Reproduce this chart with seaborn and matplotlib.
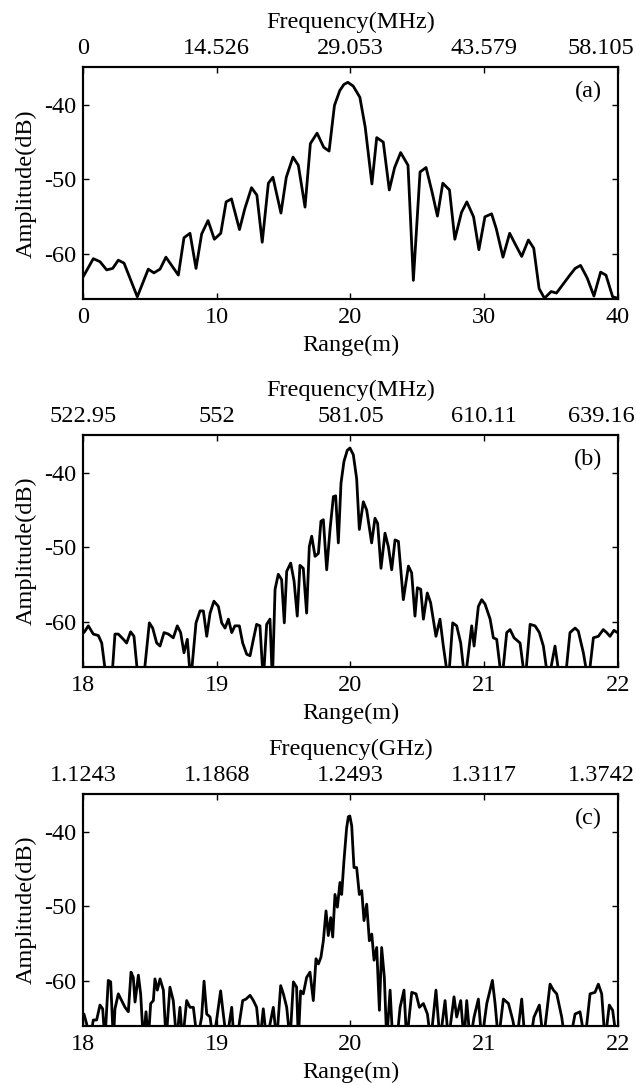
import numpy as np
import pandas as pd
import matplotlib
matplotlib.use("Agg")
import matplotlib.pyplot as plt
import matplotlib.transforms as mtransforms
import seaborn as sns

# ---- data ----
range_a = [0.02, 0.77, 1.27, 1.77, 2.22, 2.64, 3.07, 4.06, 4.88, 5.3,
           5.76, 6.2, 7.13, 7.55, 8.0, 8.45, 8.87, 9.35, 9.82, 10.3,
           10.7, 11.1, 11.7, 12.1, 12.6, 13.0, 13.4, 13.86, 14.2, 14.8,
           15.2, 15.7, 16.1, 16.6, 17.0, 17.5, 18.0, 18.4, 18.8, 19.2,
           19.5, 19.8, 20.2, 20.7, 21.1, 21.6, 21.96, 22.45, 22.9, 23.3,
           23.75, 24.3, 24.7, 25.2, 25.65, 26.1, 26.5, 26.9, 27.4, 27.8,
           28.3, 28.7, 29.2, 29.6, 30.05, 30.55, 30.9, 31.4, 31.9, 32.3,
           32.8, 33.3, 33.7, 34.1, 34.5, 35.0, 35.4, 35.9, 36.4, 36.8,
           37.2, 37.7, 38.2, 38.7, 39.1, 39.6, 40.0]
amp_a = [-63.0, -60.6, -61.0, -62.1, -61.9, -60.8, -61.2, -65.7, -62.0, -62.5,
         -62.0, -60.4, -62.8, -57.8, -57.2, -61.9, -57.3, -55.5, -58.0, -57.2,
         -53.0, -52.6, -56.7, -53.9, -51.1, -52.1, -58.4, -50.5, -49.7, -54.5,
         -49.7, -47.0, -48.1, -53.7, -45.2, -43.8, -45.7, -46.2, -40.1, -38.1,
         -37.3, -37.0, -37.5, -39.0, -43.0, -50.6, -44.4, -45.0, -51.4, -48.4,
         -46.4, -48.1, -63.5, -49.0, -48.4, -51.7, -54.9, -50.5, -51.4, -58.0,
         -54.4, -53.0, -55.0, -59.4, -55.0, -54.6, -56.6, -60.4, -57.2, -58.6,
         -60.3, -58.1, -59.2, -64.6, -65.9, -65.0, -65.2, -64.0, -62.8, -61.9,
         -61.5, -63.2, -65.6, -62.4, -62.8, -65.7, -65.9]

range_b = [18.007, 18.040, 18.077, 18.115, 18.140, 18.177, 18.214, 18.239, 18.264, 18.302,
           18.326, 18.356, 18.381, 18.414, 18.451, 18.496, 18.521, 18.551, 18.576, 18.606,
           18.638, 18.675, 18.705, 18.730, 18.755, 18.780, 18.805, 18.845, 18.875, 18.900,
           18.925, 18.950, 18.979, 19.012, 19.037, 19.062, 19.087, 19.112, 19.136, 19.169,
           19.194, 19.224, 19.249, 19.274, 19.298, 19.323, 19.348, 19.373, 19.398, 19.416,
           19.436, 19.460, 19.485, 19.505, 19.523, 19.553, 19.578, 19.602, 19.622, 19.647,
           19.672, 19.692, 19.710, 19.735, 19.760, 19.779, 19.797, 19.822, 19.847, 19.872,
           19.889, 19.909, 19.929, 19.951, 19.976, 19.996,
           20.021, 20.046, 20.066, 20.096, 20.121, 20.158, 20.183, 20.203, 20.228, 20.258,
           20.283, 20.308, 20.333, 20.358, 20.395, 20.433, 20.457, 20.482, 20.500, 20.525,
           20.545, 20.574, 20.599, 20.639, 20.669, 20.694, 20.732, 20.764, 20.794, 20.824,
           20.856, 20.906, 20.924, 20.956, 20.981, 21.006, 21.044, 21.068, 21.093, 21.131,
           21.168, 21.193, 21.223, 21.268, 21.305, 21.343, 21.380, 21.412, 21.442, 21.479,
           21.529, 21.567, 21.604, 21.641, 21.679, 21.703, 21.741, 21.778, 21.816, 21.853,
           21.890, 21.915, 21.940, 21.970, 21.995]
amp_b = [-61.4, -60.5, -61.6, -61.8, -62.8, -68, -68, -61.6, -61.6, -62.3,
         -62.8, -61.3, -61.9, -68, -68, -60.1, -60.8, -62.8, -63.2, -61.4,
         -61.6, -62.1, -60.5, -61.4, -64.1, -62.3, -68, -60.1, -58.5, -58.5,
         -61.9, -58.8, -57.2, -57.9, -60.1, -60.8, -59.6, -61.4, -60.5, -60.5,
         -62.8, -64.3, -64.5, -62.3, -60.3, -60.5, -68, -60.3, -59.6, -68,
         -55.6, -53.6, -54.3, -60.1, -53.2, -52.1, -54.5, -59.2, -52.4, -52.8,
         -58.8, -49.9, -48.5, -51.2, -50.8, -46.5, -46.3, -53.0, -47.6, -43.2,
         -43.1, -49.4, -41.4, -38.5, -37.0, -36.7,
         -37.6, -40.8, -47.6, -43.9, -45.0, -49.4, -46.1, -46.8, -52.8, -48.1,
         -49.9, -53.0, -49.0, -49.2, -57.0, -52.5, -53.4, -59.2, -55.4, -55.6,
         -59.6, -56.1, -57.4, -61.9, -59.6, -63.2, -68, -60.1, -60.5, -62.8,
         -68, -60.5, -63.2, -57.9, -57.0, -57.6, -59.6, -62.1, -62.3, -68,
         -61.4, -61.0, -62.1, -62.8, -68, -60.3, -60.5, -61.4, -63.2, -68,
         -63.2, -68, -68, -61.4, -60.8, -61.2, -64.1, -68, -62.1, -61.9,
         -61.0, -61.4, -61.9, -61.1, -61.4]

range_c = [18.007, 18.027, 18.052, 18.077, 18.102, 18.127, 18.147, 18.164, 18.189, 18.207,
           18.227, 18.239, 18.264, 18.289, 18.314, 18.339, 18.359, 18.376, 18.389, 18.414,
           18.431, 18.451, 18.471, 18.488, 18.506, 18.526, 18.538, 18.556, 18.576, 18.601,
           18.621, 18.650, 18.675, 18.700, 18.725, 18.745, 18.775, 18.800, 18.825, 18.855,
           18.887, 18.905, 18.925, 18.950, 18.974, 18.999, 19.029, 19.049, 19.074, 19.112,
           19.129, 19.149, 19.194, 19.219, 19.249, 19.274, 19.298, 19.323, 19.348, 19.373,
           19.423, 19.448, 19.478, 19.498, 19.523, 19.548, 19.573, 19.597, 19.610, 19.627,
           19.647, 19.672, 19.697, 19.722, 19.742, 19.760, 19.779, 19.797, 19.817, 19.834,
           19.852, 19.867, 19.884, 19.902, 19.921, 19.934, 19.951, 19.971, 19.984, 19.995,
           20.009, 20.026, 20.046, 20.066, 20.084, 20.101, 20.121, 20.141, 20.159, 20.176,
           20.196, 20.216, 20.233, 20.253, 20.271, 20.296, 20.316, 20.346, 20.371, 20.400,
           20.420, 20.458, 20.490, 20.515, 20.545, 20.575, 20.600, 20.639, 20.669, 20.707,
           20.732, 20.774, 20.794, 20.824, 20.849, 20.869, 20.894, 20.924, 20.956, 20.981,
           21.019, 21.061, 21.081, 21.106, 21.143, 21.181, 21.213, 21.243, 21.280, 21.305,
           21.343, 21.372, 21.412, 21.442, 21.492, 21.517, 21.542, 21.579, 21.604, 21.641,
           21.679, 21.716, 21.753, 21.791, 21.828, 21.853, 21.878, 21.903, 21.935, 21.960,
           21.990]
amp_c = [-64.4, -65.7, -68, -65.2, -65.2, -63.2, -63.7, -68, -59.9, -60.1,
         -68, -63.7, -61.7, -62.6, -63.5, -64.1, -58.8, -59.5, -62.8, -59.2,
         -61.7, -68, -64.1, -68, -63.0, -62.6, -59.7, -61.2, -59.7, -61.2,
         -68, -60.8, -62.6, -68, -63.5, -68, -62.6, -63.5, -63.5, -68,
         -64.8, -60.0, -64.4, -64.8, -68, -65.2, -61.3, -64.4, -68, -63.5,
         -68, -68, -62.6, -62.4, -61.9, -62.6, -63.5, -68, -63.7, -68,
         -63.5, -68, -60.6, -61.7, -63.5, -68, -60.1, -60.8, -68, -61.3,
         -61.7, -59.5, -58.8, -62.6, -57.0, -57.7, -56.8, -54.6, -50.6, -53.9,
         -51.5, -54.1, -48.4, -50.1, -46.8, -48.4, -43.9, -39.5, -38.0, -37.9,
         -39.2, -44.8, -44.8, -48.4, -47.9, -51.9, -49.7, -54.6, -53.7, -57.2,
         -55.5, -63.9, -55.5, -59.5, -68, -61.2, -68, -68, -63.5, -61.2,
         -68, -61.5, -61.7, -63.5, -63.0, -64.4, -68, -61.2, -68, -62.6,
         -68, -62.1, -64.8, -62.6, -68, -62.6, -68, -64.8, -62.4, -68,
         -63.0, -59.9, -63.0, -68, -62.4, -63.0, -65.2, -68, -62.4, -68,
         -68, -64.8, -63.2, -68, -60.4, -61.2, -61.7, -64.8, -68, -68,
         -64.4, -64.1, -68, -61.7, -61.5, -60.4, -61.7, -68, -63.2, -63.9,
         -68]

ticks_a = [0, 10, 20, 30, 40]
ticks_bc = [18, 19, 20, 21, 22]
freq_labels_a = ['0', '14.526', '29.053', '43.579', '58.105']
freq_labels_b = ['522.95', '552', '581.05', '610.11', '639.16']
freq_labels_c = ['1.1243', '1.1868', '1.2493', '1.3117', '1.3742']
amp_ticks = [-60, -50, -40]

sns.set_theme(style='ticks', rc={
    'axes.edgecolor': 'black', 'axes.linewidth': 1.5,
    'xtick.color': 'black', 'ytick.color': 'black',
    'text.color': 'black', 'axes.labelcolor': 'black',
})
plt.rcParams['font.family'] = ['Liberation Serif', 'DejaVu Serif']
plt.rcParams['axes.unicode_minus'] = False
FS = 17.5

fig = plt.figure(figsize=(6.36, 10.85), dpi=100)

panels = [
    (range_a, amp_a, ticks_a, freq_labels_a, 'Frequency(MHz)', '(a)', 0.7244),
    (range_b, amp_b, ticks_bc, freq_labels_b, 'Frequency(MHz)', '(b)', 0.3853),
    (range_c, amp_c, ticks_bc, freq_labels_c, 'Frequency(GHz)', '(c)', 0.0544),
]

# the last top label sits a little to the left so it stays inside the figure
shift_left = mtransforms.ScaledTranslation(-17 / 100, 0, fig.dpi_scale_trans)

for rng, amp, ticks, flabels, ftitle, tag, bottom in panels:
    ax = fig.add_axes([0.1305, bottom, 0.8412, 0.2135])
    df = pd.DataFrame({'Range': rng, 'Amplitude': amp})
    sns.lineplot(data=df, x='Range', y='Amplitude', ax=ax, color='black',
                 linewidth=2.0, estimator=None, sort=False)
    ax.set_xlim(ticks[0], ticks[-1])
    ax.set_ylim(-66, -35)
    ax.set_xticks(ticks)
    ax.set_xticklabels([str(t) for t in ticks])
    ax.set_yticks(amp_ticks)
    ax.set_yticklabels([str(t) for t in amp_ticks])
    ax.tick_params(direction='in', length=4, width=1, labelsize=FS, pad=6,
                   right=True, top=False)
    ax.tick_params(axis='y', pad=5)
    ax.set_xlabel('Range(m)', fontsize=FS, labelpad=5)
    ax.set_ylabel('Amplitude(dB)', fontsize=FS, labelpad=5)
    for s in ax.spines.values():
        s.set_linewidth(1.5)
    ax.text(0.97, 0.895, tag, transform=ax.transAxes, ha='right', va='center',
            fontsize=FS)

    top = ax.twiny()
    top.set_xlim(ax.get_xlim())
    top.set_xticks(ticks)
    top.set_xticklabels(flabels)
    top.tick_params(direction='in', length=4, width=1, labelsize=FS, pad=6)
    top.set_xlabel(ftitle, fontsize=FS, labelpad=7)
    last = top.get_xticklabels()[-1]
    last.set_transform(last.get_transform() + shift_left)

fig.savefig('out.png', dpi=100)
